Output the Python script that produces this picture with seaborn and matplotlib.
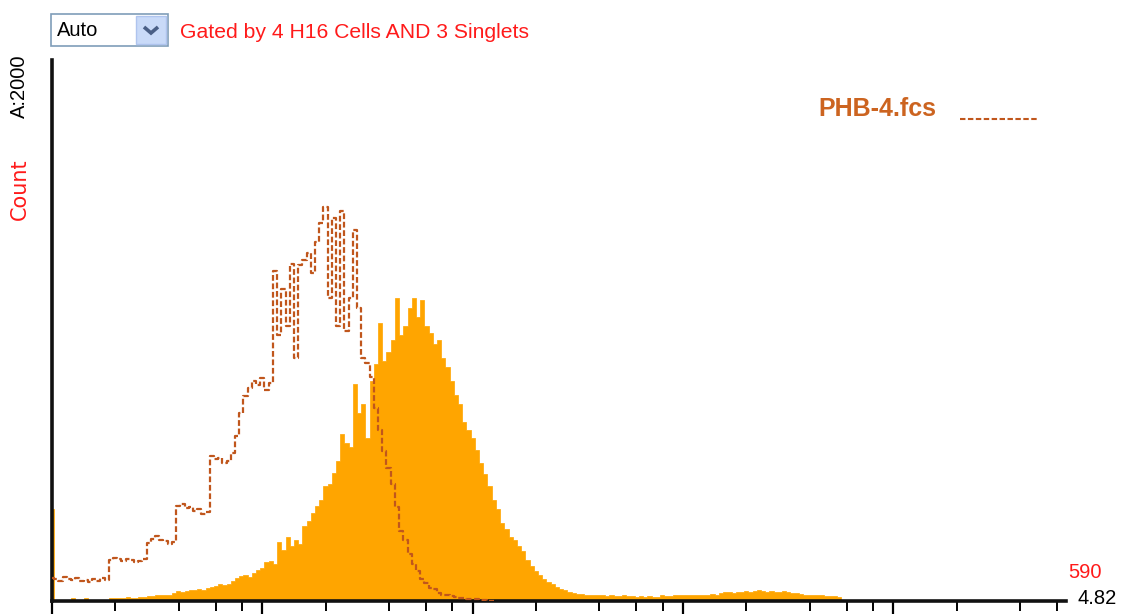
import numpy as np
import pandas as pd
import matplotlib
matplotlib.use("Agg")
import matplotlib.pyplot as plt
import seaborn as sns
from matplotlib.patches import Rectangle
from matplotlib.lines import Line2D

# ---------------- data ----------------
log_max = 4.82          # x axis range in decades
y_max = 590             # y axis maximum count
bin_width = 0.02        # channel width in decades
sample_name = "PHB-4.fcs"
gate_text = "Gated by 4 H16 Cells AND 3 Singlets"
y_label = "Count"
y_info = "A:2000"
dropdown_text = "Auto"
max_label = "590"
range_label = "4.82"

# filled (reference) histogram counts, channel 0 is the off-scale channel
orange_counts = [
    100, 0, 0, 0, 0, 3, 0, 0, 3, 0, 0, 0, 0, 0,
    3, 3, 3, 3, 4, 3, 3, 4, 4,
    5, 5, 6, 6, 7, 7, 9,
    11, 10, 11, 12, 12, 13, 12, 14,
    15, 16, 18, 17, 19, 22, 25,
    27, 28, 26, 31, 34, 36, 42, 44,
    40, 64, 56, 70, 60, 66, 62,
    82, 87, 96, 104, 110, 125, 128,
    140, 153, 182, 172, 168, 237, 205,
    215, 178, 240, 258, 303, 262, 272,
    285, 330, 290, 300, 320, 330, 310,
    328, 300, 292, 280, 285, 265, 255,
    240, 225, 215, 195, 186, 178, 165,
    150, 138, 125, 110, 100, 85, 78,
    70, 66, 60, 55, 45, 38, 33,
    28, 24, 21, 18, 15, 13, 12,
    10, 9, 8, 8, 7, 7, 6, 6,
    6, 5, 6, 5, 5, 6, 5, 5, 4, 5,
    4, 5, 4, 4, 6, 5, 5, 6, 6, 7,
    6, 7, 7, 6, 7, 7, 8, 7, 9, 10,
    10, 9, 10, 10, 11, 10, 11, 12, 11, 10,
    11, 10, 10, 11, 10, 9, 9, 8, 7, 7,
    6, 6, 6, 5, 5, 5, 4,
]

# dashed overlay histogram counts (PHB-4.fcs)
dashed_counts = [
    25, 24, 22, 26, 24, 23, 25, 22, 23, 21, 24, 22, 25, 23,
    45, 47, 46, 44, 46, 45, 42, 44, 46,
    63, 68, 71, 67, 65, 62, 64,
    104, 106, 101, 103, 98, 100, 95, 97,
    158, 155, 156, 150, 153, 161,
    180, 205, 224,
    232, 240, 236, 243, 230, 238,
    360, 290, 340, 300, 368, 265, 366, 372, 380, 358, 392, 412, 430,
    330, 418, 300, 425, 295, 330, 405, 320,
    265, 260, 244, 210, 186, 164, 145, 128, 102, 76,
    66, 51, 40, 33, 24, 20, 14, 13, 9, 7,
    6, 5, 4, 3, 3, 2, 2, 2, 1, 1, 0, 0,
]

# decade tick structure
major_ticks = [0, 1, 2, 3, 4]
minor_multipliers = [2, 4, 6, 8]

# ---------------- colours ----------------
fill_color = "#FFA500"
line_color = "#C0561C"
legend_color = "#CC6420"
red = "#FF1A1A"

# ---------------- build frames ----------------
edges = [0.0] + [float(0.01 + bin_width * k) for k in range(len(orange_counts))]
orange_x = [0.005] + [float(bin_width * k) for k in range(1, len(orange_counts))]
df_orange = pd.DataFrame({"x": orange_x, "count": [float(c) for c in orange_counts]})
df_dashed = pd.DataFrame({"x": bin_width * np.arange(len(dashed_counts)),
                          "count": dashed_counts})

W, H = 1125, 614
sns.set_style("white")
plt.rcParams["font.family"] = ["Liberation Sans", "DejaVu Sans"]
fig = plt.figure(figsize=(W / 100, H / 100), dpi=100)

ax = fig.add_axes([52 / W, 13 / H, (1066 - 52) / W, (601 - 60) / H])

sns.histplot(data=df_orange, x="x", weights="count", bins=edges,
             element="step", fill=True, color=fill_color, alpha=1.0,
             linewidth=0.5, ax=ax, zorder=2)

sns.lineplot(data=df_dashed, x="x", y="count", drawstyle="steps-mid",
             color=line_color, linewidth=1.6, ax=ax,
             legend=False, zorder=3)
for ln in ax.get_lines():
    ln.set_linestyle((0, (2.6, 1.2)))

ax.set_xlim(0, log_max)
ax.set_ylim(0, y_max)
ax.set_xlabel("")
ax.set_ylabel("")

minor = [d + np.log10(m) for d in major_ticks for m in minor_multipliers
         if d + np.log10(m) <= log_max]
ax.set_xticks(major_ticks)
ax.set_xticks(minor, minor=True)
ax.tick_params(axis="x", which="major", direction="out", length=10, width=1.6,
               color="black", labelbottom=False, bottom=True)
ax.tick_params(axis="x", which="minor", direction="out", length=7, width=1.4,
               color="black", bottom=True)
ax.set_yticks([])

for s in ["top", "right"]:
    ax.spines[s].set_visible(False)
for s in ["left", "bottom"]:
    ax.spines[s].set_linewidth(2.6)
    ax.spines[s].set_color("#111111")
ax.set_facecolor("white")
ax.grid(False)


def fx(px):
    return px / W


def fy(py):
    return 1 - py / H


# dropdown widget
fig.patches.append(Rectangle((fx(51), fy(46)), 117 / W, 32 / H, transform=fig.transFigure,
                             facecolor="white", edgecolor="#7F9DB9", linewidth=1.2))
fig.patches.append(Rectangle((fx(136), fy(44)), 30 / W, 28 / H, transform=fig.transFigure,
                             facecolor="#C9DAF8", edgecolor="#AFC4EE", linewidth=1.0))
fig.lines.append(Line2D([fx(144), fx(151), fx(158)], [fy(27), fy(33), fy(27)],
                        transform=fig.transFigure, color="#4A5F86", linewidth=2.6,
                        solid_capstyle="butt", solid_joinstyle="miter"))
fig.text(fx(57), fy(30), dropdown_text, fontsize=14.5, color="black", va="center", ha="left")

fig.text(fx(180), fy(32), gate_text, fontsize=15.2, color=red, va="center", ha="left")

# y-axis labels
fig.text(fx(19), fy(86), y_info, fontsize=14.5, color="black", rotation=90,
         va="center", ha="center")
fig.text(fx(20), fy(189), y_label, fontsize=15, color=red, rotation=90,
         va="center", ha="center", family=["DejaVu Sans"])

# legend
fig.text(fx(818), fy(109), sample_name, fontsize=18, fontweight="bold",
         color=legend_color, va="center", ha="left")
fig.lines.append(Line2D([fx(960), fx(1038)], [fy(119), fy(119)],
                        transform=fig.transFigure, color=line_color, linewidth=1.5,
                        linestyle=(0, (2.6, 1.2))))

# corner labels
fig.text(fx(1068), fy(572), max_label, fontsize=14.5, color=red, va="center", ha="left")
fig.text(fx(1077), fy(599), range_label, fontsize=14.5, color="black", va="center", ha="left")

fig.savefig("out.png", dpi=100, facecolor="white")
